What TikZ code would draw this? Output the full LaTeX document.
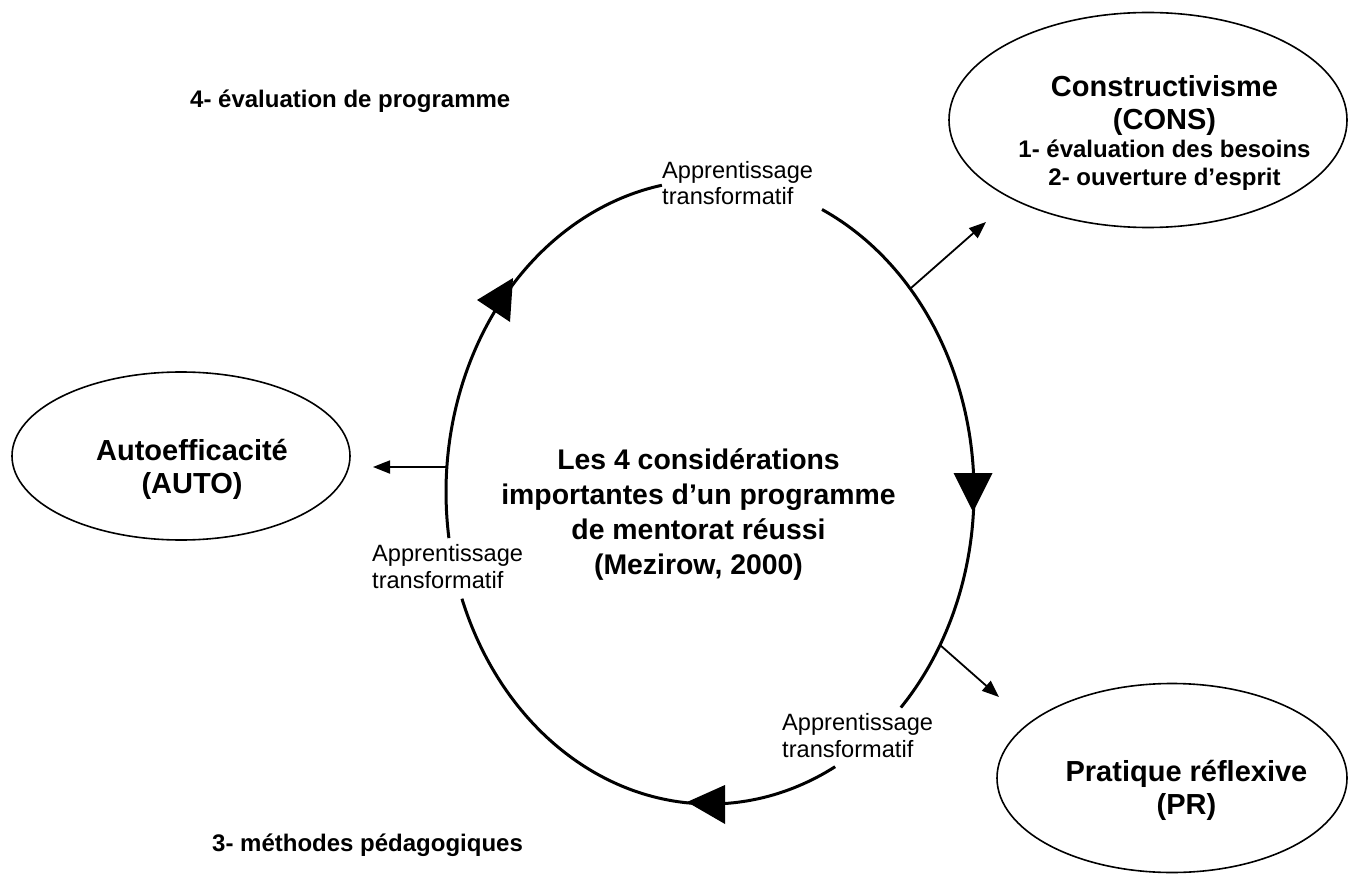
\documentclass[tikz,border=0pt]{standalone}
\usepackage{fontspec}
\setmainfont[Ligatures={TeX,CommonOff}]{Liberation Sans}
\usetikzlibrary{shapes.geometric,arrows.meta}
\begin{document}
\begin{tikzpicture}[x=1pt,y=-1pt,
  bubble/.style={draw=black,line width=1.6pt,ellipse,inner sep=0pt,outer sep=0pt},
  bigtxt/.style={font=\bfseries\fontsize{29}{33}\selectfont,align=center,inner sep=0pt,anchor=base},
  midtxt/.style={font=\bfseries\fontsize{24}{28}\selectfont,align=center,inner sep=0pt,anchor=base},
  stagetxt/.style={font=\bfseries\fontsize{24}{28}\selectfont,inner sep=0pt,anchor=base west},
  centretxt/.style={font=\bfseries\fontsize{28.4}{34.7}\selectfont,align=center,inner sep=0pt,anchor=base},
  looplbl/.style={font=\fontsize{23.6}{26.5}\selectfont,align=left,inner sep=0pt,anchor=base west},
  loopline/.style={line width=3pt},
  feeder/.style={line width=1.8pt,-{Triangle[length=17pt,width=13pt]}},
  loophead/.style={fill=black}
]
\fill[white] (0,0) rectangle (1348,874);
\useasboundingbox (0,0) rectangle (1348,874);

% ellipses
\node[bubble,minimum width=398pt,minimum height=215pt] (cons) at (1148,120) {};
\node[bubble,minimum width=338pt,minimum height=168pt] (auto) at (181,456) {};
\node[bubble,minimum width=350pt,minimum height=189pt] (pr) at (1172,778) {};

% texts (anchor=base of a multi-line node is the baseline of its last line)
\node[bigtxt] (constitle) at (1164.5,130) {Constructivisme\\(CONS)};
\node[midtxt] (conslist) at (1164.5,186) {1- évaluation des besoins\\2- ouverture d’esprit};
\node[bigtxt] (autotitle) at (192,493) {Autoefficacité\\(AUTO)};
\node[bigtxt] (prtitle) at (1186.5,814) {Pratique réflexive\\(PR)};
\node[centretxt] (centre) at (698.5,574) {Les 4 considérations\\importantes d’un programme\\de mentorat réussi\\(Mezirow, 2000)};
\node[stagetxt] (stage4) at (190,108) {4- évaluation de programme};
\node[stagetxt] (stage3) at (212,851) {3- méthodes pédagogiques};
\node[looplbl] (lbltop) at (662,205) {Apprentissage\\transformatif};
\node[looplbl] (lblleft) at (372,588) {Apprentissage\\transformatif};
\node[looplbl] (lblright) at (782,757) {Apprentissage\\transformatif};

% the loop
\draw[loopline] plot[domain=-64.9:43.7,samples=90,variable=\t] ({710+264*cos(\t)},{492+312*sin(\t)});
\draw[loopline] plot[domain=61.7:160,samples=90,variable=\t] ({710+264*cos(\t)},{492+312*sin(\t)});
\draw[loopline] plot[domain=171.5:259.5,samples=90,variable=\t] ({710+264*cos(\t)},{492+312*sin(\t)});

% loop arrowheads
\fill[loophead] (477,300) -- (513,278) -- (510,322) -- cycle;
\fill[loophead] (953.6,473) -- (992.6,473) -- (973,512) -- cycle;
\fill[loophead] (687,802) -- (725,785) -- (725,824) -- cycle;

% feeders
\coordinate (autofoot) at (447,467);
\coordinate (autotip) at (373,467);
\coordinate (consfoot) at (911,288);
\coordinate (constip) at (986,222);
\coordinate (prfoot) at (940,645);
\coordinate (prtip) at (999,697);
\draw[feeder] (autofoot) -- (autotip);
\draw[feeder] (consfoot) -- (constip);
\draw[feeder] (prfoot) -- (prtip);
\end{tikzpicture}
\end{document}
